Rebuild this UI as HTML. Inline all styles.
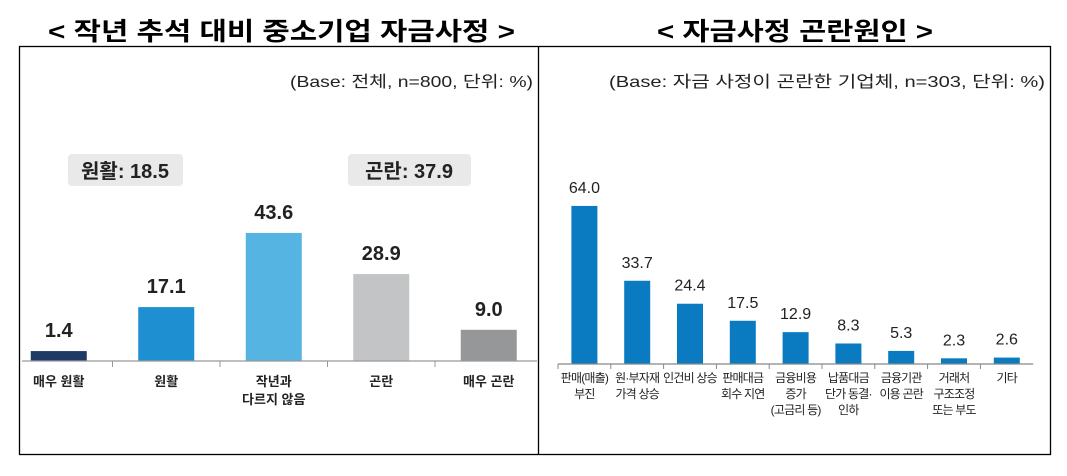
<!DOCTYPE html>
<html><head><meta charset="utf-8"><style>
body{margin:0;width:1067px;height:471px;background:#fff;overflow:hidden;font-family:"Liberation Sans","Noto Sans CJK KR",sans-serif}
svg text{font-family:"Liberation Sans","Noto Sans CJK KR",sans-serif}
</style></head><body>
<svg width="1067" height="471">
<text x="48" y="40" font-size="25" font-weight="bold" textLength="467" lengthAdjust="spacingAndGlyphs">&lt; 작년 추석 대비 중소기업 자금사정 &gt;</text>
<text x="657" y="40" font-size="25" font-weight="bold" textLength="276" lengthAdjust="spacingAndGlyphs">&lt; 자금사정 곤란원인 &gt;</text>
<rect x="19.5" y="46.5" width="1031" height="408" fill="none" stroke="#000" stroke-width="1.3"/>
<line x1="538.5" y1="46" x2="538.5" y2="455" stroke="#000" stroke-width="1.3"/>
<text x="290" y="87" font-size="16" fill="#222" textLength="243" lengthAdjust="spacingAndGlyphs">(Base: 전체, n=800, 단위: %)</text>
<text x="609" y="87" font-size="16" fill="#222" textLength="436" lengthAdjust="spacingAndGlyphs">(Base: 자금 사정이 곤란한 기업체, n=303, 단위: %)</text>
<rect x="68" y="154" width="115" height="32" rx="4" fill="#e9e9e9"/>
<text x="125" y="178" text-anchor="middle" font-size="20" font-weight="bold" fill="#222">원활: 18.5</text>
<rect x="348" y="154" width="123" height="32" rx="4" fill="#e9e9e9"/>
<text x="409" y="178" text-anchor="middle" font-size="20" font-weight="bold" fill="#222">곤란: 37.9</text>
<g id="left"></g><g id="right"></g>
</svg>
<script>
const leftCats=[["매우 원활"],["원활"],["작년과","다르지 않음"],["곤란"],["매우 곤란"]];
const leftVals=[1.4,17.1,43.6,28.9,9.0];
const leftColors=["#1f3a64","#1e8fd0","#56b4e3","#c3c4c6","#959799"];
const rightCats=[["판매(매출)","부진"],["원·부자재","가격 상승"],["인건비 상승"],["판매대금","회수 지연"],["금융비용","증가","(고금리 등)"],["납품대금","단가 동결·","인하"],["금융기관","이용 곤란"],["거래처","구조조정","또는 부도"],["기타"]];
const rightVals=[64.0,33.7,24.4,17.5,12.9,8.3,5.3,2.3,2.6];
const NS="http://www.w3.org/2000/svg";
function mk(p,t,a){const e=document.createElementNS(NS,t);for(const k in a)e.setAttribute(k,a[k]);p.appendChild(e);return e;}
// left
const L=document.getElementById('left');
const lBase=361,lScale=2.8,lOff=6,lX0=5,lStep=107.5;
const lx=i=>lX0+lStep*(i+0.5), ly=v=>lBase-(lOff+v*lScale);
leftVals.forEach((v,i)=>{
 const r=mk(L,'rect',{x:lx(i)-28,y:ly(v),width:56,height:lBase-ly(v),fill:leftColors[i]});
 
 
 const t=mk(L,'text',{x:lx(i),y:ly(v)-14,'text-anchor':'middle','font-size':20,'font-weight':'bold',fill:'#222'});t.textContent=v.toFixed(1);
 
 
 leftCats[i].forEach((s,j)=>{const c=mk(L,'text',{x:lx(i),y:386+j*18,'text-anchor':'middle','font-size':13,'font-weight':'bold',fill:'#222'});c.textContent=s;
 
 });
 if(i>0){const k=mk(L,'line',{x1:lX0+lStep*i,y1:lBase,x2:lX0+lStep*i,y2:lBase+6,stroke:'#999'});
 
 }
});
const la=mk(L,'line',{x1:22,y1:lBase,x2:537,y2:lBase,stroke:'#999','stroke-width':1.3});


// right
const R=document.getElementById('right');
const rBase=364,rScale=2.47,rX0=558,rStep=52.8;
const rx=i=>rX0+rStep*(i+0.5), ry=v=>rBase-v*rScale;
rightVals.forEach((v,i)=>{
 const r=mk(R,'rect',{x:rx(i)-13,y:ry(v),width:26,height:rBase-ry(v),fill:'#0a7bc1'});
 
 
 const t=mk(R,'text',{x:rx(i),y:ry(v)-13,'text-anchor':'middle','font-size':16,fill:'#222'});t.textContent=v.toFixed(1);
 
 
 rightCats[i].forEach((s,j)=>{const c=mk(R,'text',{x:rx(i),y:382+j*16,'text-anchor':'middle','font-size':12,'letter-spacing':'-0.8',fill:'#222'});c.textContent=s;
 
 });
 const k=mk(R,'line',{x1:rX0+rStep*i,y1:rBase,x2:rX0+rStep*i,y2:rBase+5,stroke:'#888'});
 
 
});
const ra=mk(R,'line',{x1:rX0,y1:rBase,x2:rX0+rStep*9,y2:rBase,stroke:'#888','stroke-width':1.2});


</script>
</body></html>
